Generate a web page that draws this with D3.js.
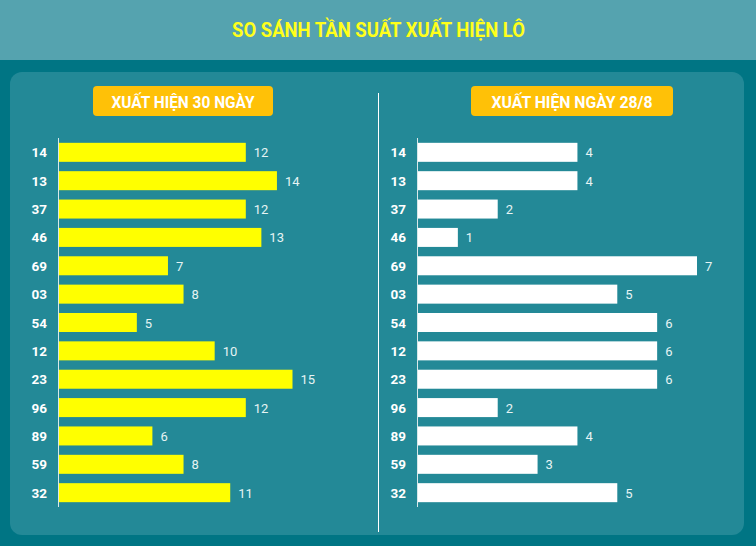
<!DOCTYPE html>
<html><head><meta charset="utf-8">
<script src="https://cdn.jsdelivr.net/npm/d3@7"></script>
<style>body{margin:0;background:#007584;}svg{display:block;font-family:Roboto,"Noto Sans",sans-serif;}</style>
</head><body><svg id="c" width="756" height="546"></svg>
<script>
const categories = ["14","13","37","46","69","03","54","12","23","96","89","59","32"];
const values30 = [12,14,12,13,7,8,5,10,15,12,6,8,11];
const valuesDay = [4,4,2,1,7,5,6,6,6,2,4,3,5];
const title = "SO SÁNH TẦN SUẤT XUẤT HIỆN LÔ";
const leftTitle = "XUẤT HIỆN 30 NGÀY";
const rightTitle = "XUẤT HIỆN NGÀY 28/8";

const svg = d3.select("#c");
svg.append("rect").attr("width",756).attr("height",546).attr("fill","#007584");
svg.append("rect").attr("width",756).attr("height",60).attr("fill","#55a3af");
svg.append("text").attr("x",378.5).attr("y",37).attr("text-anchor","middle")
  .attr("fill","#ffff1a").attr("font-size",20).attr("font-weight",700)
  .attr("textLength",293).attr("lengthAdjust","spacingAndGlyphs").text(title);
svg.append("rect").attr("x",10).attr("y",72).attr("width",734).attr("height",463).attr("rx",12).attr("fill","#238997");
svg.append("line").attr("x1",378.5).attr("x2",378.5).attr("y1",93).attr("y2",532).attr("stroke","#fff").attr("stroke-width",1);

const y = d3.scaleBand().domain(categories).range([138,507]).paddingInner(0.33).paddingOuter(0.17);

function panel(vals, x0, labelX, xmax, xEnd, color, badge, head, headLen){
  const x = d3.scaleLinear().domain([0,xmax]).range([x0,xEnd]);
  const g = svg.append("g");
  g.append("rect").attr("x",badge[0]).attr("y",86).attr("width",badge[1]-badge[0]).attr("height",30).attr("rx",4).attr("fill","#ffc107");
  g.append("text").attr("x",(badge[0]+badge[1])/2).attr("y",108).attr("text-anchor","middle")
    .attr("fill","#fff").attr("font-size",16).attr("font-weight",700)
    .attr("textLength",headLen).attr("lengthAdjust","spacingAndGlyphs").text(head);
  g.selectAll(".bar").data(categories).enter().append("rect")
    .attr("x",x(0)).attr("y",d=>y(d)).attr("height",y.bandwidth())
    .attr("width",(d,i)=>x(vals[i])-x(0)).attr("fill",color);
  g.selectAll(".val").data(categories).enter().append("text")
    .attr("x",(d,i)=>x(vals[i])+8).attr("y",d=>y(d)+y.bandwidth()/2+5)
    .attr("fill","#e6f4f4").attr("font-size",13).text((d,i)=>vals[i]);
  g.selectAll(".cat").data(categories).enter().append("text")
    .attr("x",labelX).attr("y",d=>y(d)+y.bandwidth()/2+5).attr("text-anchor","end")
    .attr("fill","#fff").attr("font-size",13.5).attr("font-weight",700).text(d=>d);
  g.append("line").attr("x1",x0-0.5).attr("x2",x0-0.5).attr("y1",138).attr("y2",507).attr("stroke","#d8e8ea").attr("stroke-width",1);
}
panel(values30, 59, 47, 15, 292.5, "#ffff00", [93,273], leftTitle, 143);
panel(valuesDay, 418, 406, 7, 697, "#ffffff", [471,673], rightTitle, 161);
</script></body></html>
